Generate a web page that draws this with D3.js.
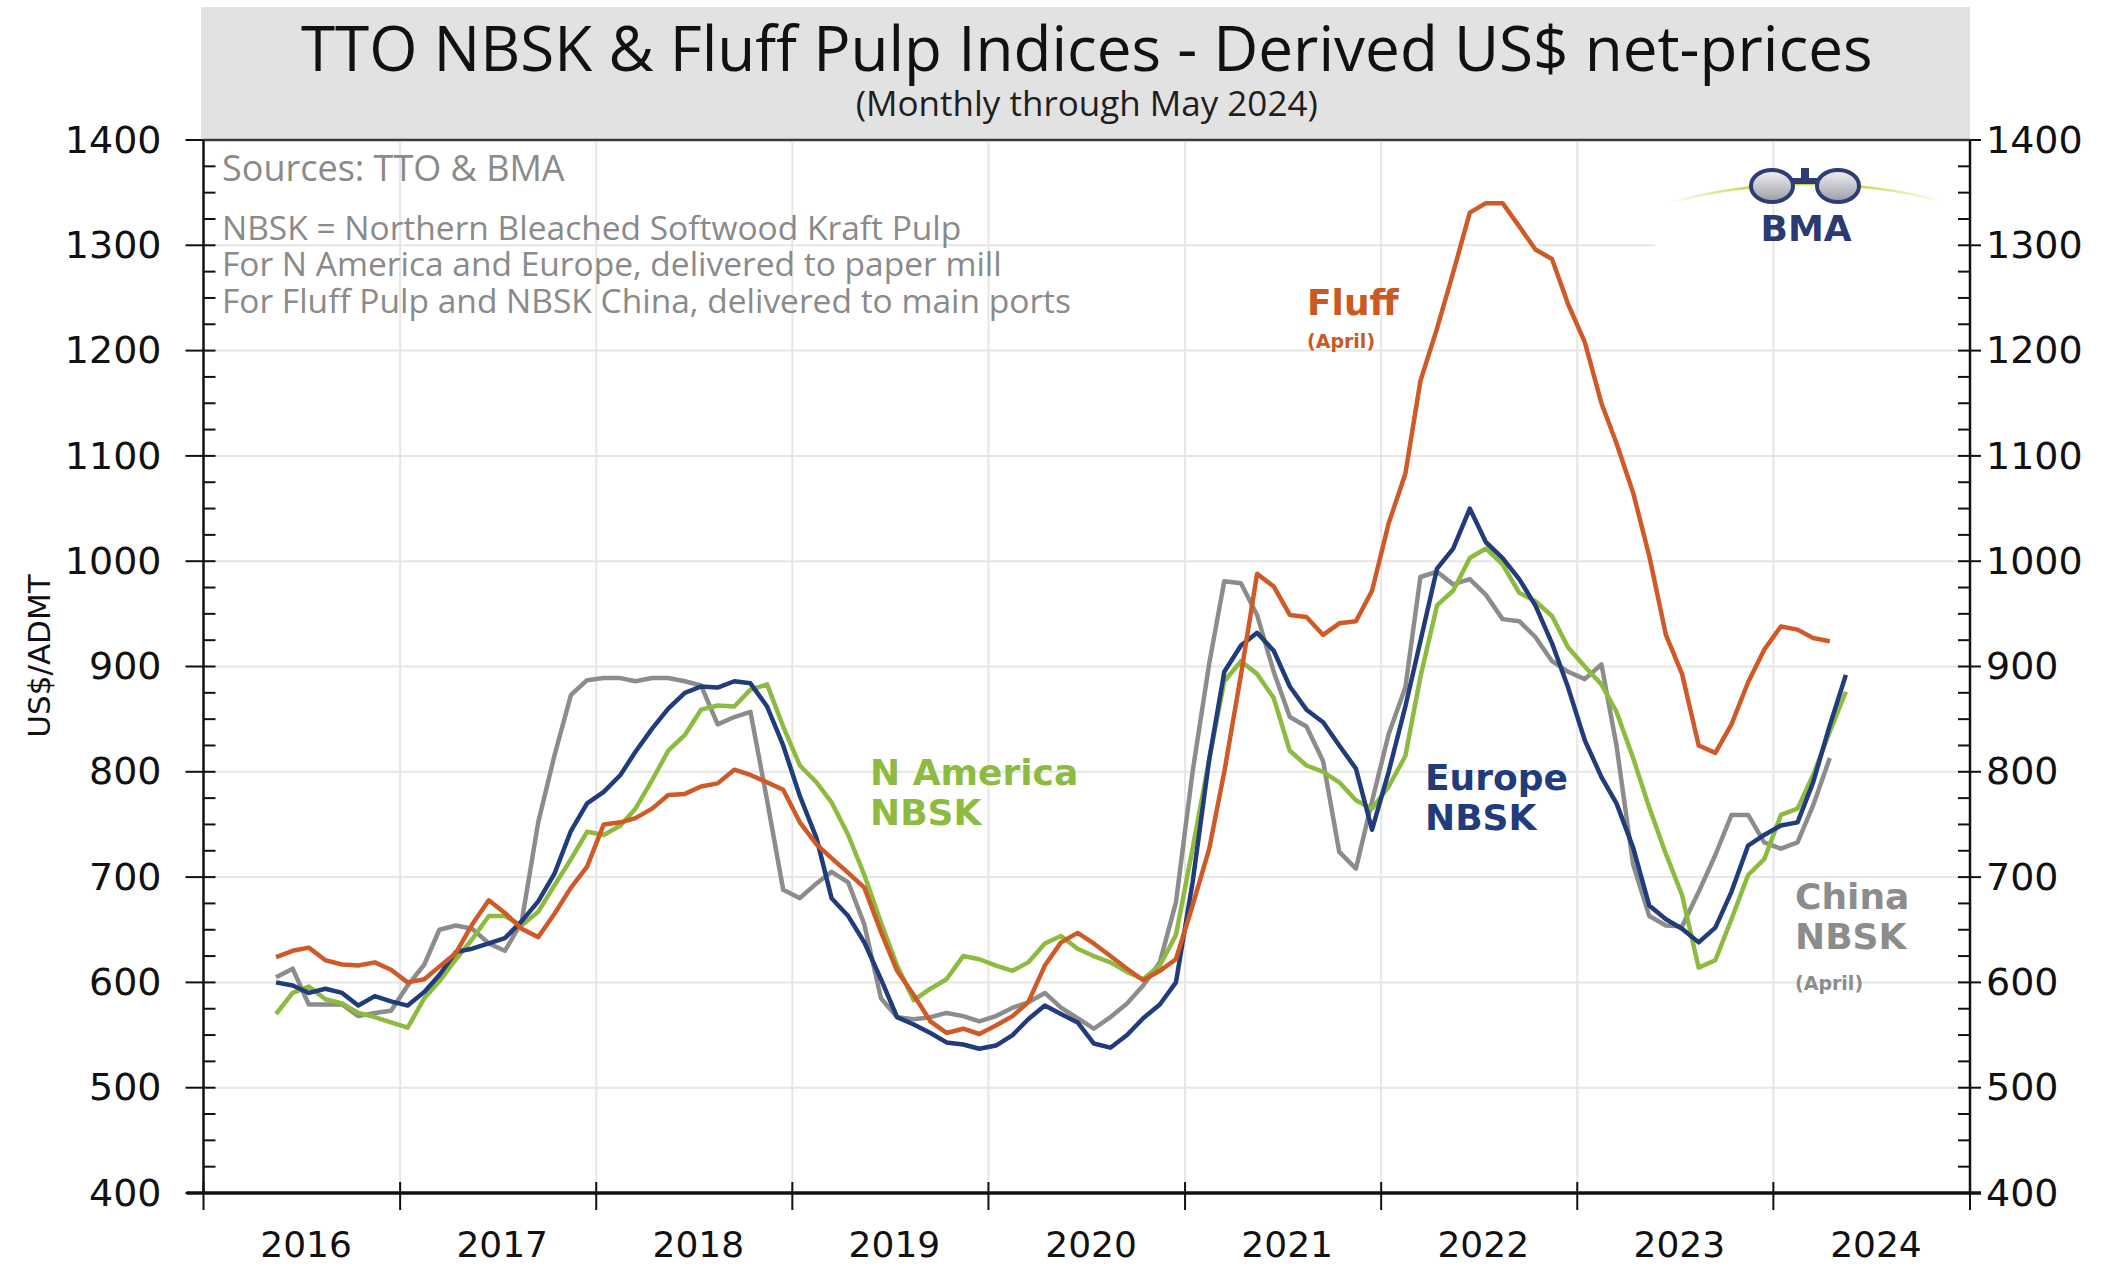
<!DOCTYPE html>
<html>
<head>
<meta charset="utf-8">
<script src="https://cdn.jsdelivr.net/npm/d3@7"></script>
<style>
body { margin: 0; background: #ffffff; }
</style>
</head>
<body>
<script>
//DATA (monthly, US$/ADMT)
var firstMonth = new Date(2016, 4, 15); // May 2016, points sit mid-month

var fluff = [
  624, 630, 633, 621, 617, 616, 619, 612,
  600, 603, 615, 628, 655, 678, 666, 651, 643, 665, 690, 710,
  750, 752, 756, 765, 778, 779, 786, 789, 802, 797, 790, 783,
  752, 731, 718, 704, 690, 648, 611, 588, 563, 552, 556, 551,
  559, 568, 581, 616, 638, 647, 637, 625, 613, 602, 611, 622,
  673, 727, 800, 892, 988, 976, 949, 947, 930, 941, 943, 972,
  1036, 1083, 1171, 1221, 1274, 1331, 1340, 1340, 1318, 1296, 1287, 1244,
  1208, 1150, 1112, 1065, 1005, 930, 893, 825, 818, 845, 885, 916,
  938, 935, 927, 924
];

var naNBSK = [
  570, 590, 596, 584, 580, 571, 567, 562,
  557, 585, 601, 622, 641, 663, 663, 654, 667, 692, 717, 743,
  740, 749, 765, 792, 820, 835, 859, 863, 862, 878, 883, 843,
  806, 790, 771, 740, 702, 657, 616, 583, 594, 603, 625, 622,
  616, 611, 619, 637, 644, 632, 625, 619, 610, 603, 616, 645,
  727, 812, 886, 905, 893, 870, 820, 806, 800, 790, 773, 765,
  786, 815, 890, 958, 972, 1003, 1012, 997, 970, 962, 948, 918,
  900, 883, 857, 813, 766, 722, 683, 614, 621, 660, 702, 717,
  759, 765, 797, 838, 876
];

var europeNBSK = [
  600, 597, 590, 594, 590, 578, 587, 582,
  578, 591, 607, 629, 632, 637, 642, 658, 677, 703, 744, 770,
  781, 797, 819, 841, 860, 875, 881, 880, 886, 884, 862, 825,
  777, 737, 680, 663, 638, 603, 567, 560, 552, 543, 541, 537,
  540, 550, 565, 578, 570, 562, 542, 538, 550, 566, 579, 600,
  695, 812, 895, 920, 932, 915, 881, 859, 847, 825, 803, 745,
  800, 862, 924, 993, 1012, 1050, 1018, 1003, 983, 958, 922, 880,
  830, 795, 770, 728, 673, 660, 651, 638, 652, 686, 730, 740,
  749, 752, 790, 844, 892
];

var chinaNBSK = [
  605, 613, 579, 579, 579, 568, 571, 573,
  597, 617, 650, 654, 651, 637, 630, 657, 752, 815, 873, 887,
  889, 889, 886, 889, 889, 886, 882, 845, 852, 857, 773, 688,
  680, 694, 705, 695, 655, 585, 567, 565, 567, 571, 568, 563,
  568, 576, 581, 590, 576, 566, 556, 567, 580, 597, 619, 676,
  800, 903, 981, 979, 949, 895, 852, 843, 810, 724, 708, 772,
  836, 880, 985, 990, 978, 983, 968, 945, 943, 928, 905, 895,
  888, 902, 825, 712, 663, 654, 653, 686, 721, 759, 759, 733,
  727, 733, 768, 813
];

var years = [2016, 2017, 2018, 2019, 2020, 2021, 2022, 2023, 2024];
var yTicks = [400, 500, 600, 700, 800, 900, 1000, 1100, 1200, 1300, 1400];

var titleText = "TTO NBSK & Fluff Pulp Indices - Derived US$ net-prices";
var subtitleText = "(Monthly through May 2024)";
var notes = [
  "Sources: TTO & BMA",
  "NBSK = Northern Bleached Softwood Kraft Pulp",
  "For N America and Europe, delivered to paper mill",
  "For Fluff Pulp and NBSK China, delivered to main ports"
];

//GENERAL VARIABLES
var width = 2127,
    height = 1267,
    plotLeft = 203.5,
    plotRight = 1970,
    plotTop = 140,
    plotBottom = 1193;

var tickFont = "'DejaVu Sans', Verdana, sans-serif";
var textFont = "'Open Sans', Lato, sans-serif";

var x = d3.scaleTime()
    .domain([new Date(2016, 0, 1), new Date(2025, 0, 1)])
    .range([plotLeft, plotRight]);

var y = d3.scaleLinear()
    .domain([400, 1400])
    .range([plotBottom, plotTop]);

var series = [
  { key: "china", values: chinaNBSK, color: "#8c8c8c" },
  { key: "na", values: naNBSK, color: "#8cbb3f" },
  { key: "europe", values: europeNBSK, color: "#213c7a" },
  { key: "fluff", values: fluff, color: "#cf5a27" }
];

var svg = d3.select("body").append("svg")
    .attr("width", width)
    .attr("height", height)
    .style("display", "block");

//TITLE BOX
svg.append("rect")
    .attr("x", 201).attr("y", 7)
    .attr("width", plotRight - 201).attr("height", plotTop - 7)
    .attr("fill", "#e2e2e2");

svg.append("text")
    .attr("x", (plotLeft + plotRight) / 2).attr("y", 71)
    .attr("text-anchor", "middle")
    .style("font-family", textFont).style("font-size", "62px")
    .attr("fill", "#111")
    .text(titleText);

svg.append("text")
    .attr("x", (plotLeft + plotRight) / 2).attr("y", 116)
    .attr("text-anchor", "middle")
    .style("font-family", textFont).style("font-size", "35px")
    .attr("fill", "#1e1e1e")
    .text(subtitleText);

//GRIDLINES
svg.append("g").selectAll("line")
    .data(yTicks.slice(1, -1))
    .enter().append("line")
    .attr("x1", plotLeft + 2).attr("x2", plotRight - 2)
    .attr("y1", function(d) { return y(d); })
    .attr("y2", function(d) { return y(d); })
    .attr("stroke", "#e6e6e6").attr("stroke-width", 2);

// logo sits on a white patch that hides the horizontal grid
svg.append("rect")
    .attr("x", 1655).attr("y", plotTop + 2)
    .attr("width", plotRight - 1657).attr("height", 112)
    .attr("fill", "#ffffff");

var yearStarts = years.slice(1).map(function(yr) { return new Date(yr, 0, 1); });
svg.append("g").selectAll("line")
    .data(yearStarts)
    .enter().append("line")
    .attr("x1", function(d) { return x(d); })
    .attr("x2", function(d) { return x(d); })
    .attr("y1", plotTop + 2).attr("y2", plotBottom)
    .attr("stroke", "#e6e6e6").attr("stroke-width", 2);

//LOGO
var defs = svg.append("defs");
var arcGrad = defs.append("linearGradient").attr("id", "arcGrad");
arcGrad.append("stop").attr("offset", "0%").attr("stop-color", "#c6da4c").attr("stop-opacity", 0);
arcGrad.append("stop").attr("offset", "30%").attr("stop-color", "#c6da4c").attr("stop-opacity", 1);
arcGrad.append("stop").attr("offset", "70%").attr("stop-color", "#c6da4c").attr("stop-opacity", 1);
arcGrad.append("stop").attr("offset", "100%").attr("stop-color", "#c6da4c").attr("stop-opacity", 0);
var lensGrad = defs.append("linearGradient").attr("id", "lensGrad")
    .attr("x1", 0).attr("y1", 0).attr("x2", 0).attr("y2", 1);
lensGrad.append("stop").attr("offset", "0%").attr("stop-color", "#f2f2f4");
lensGrad.append("stop").attr("offset", "100%").attr("stop-color", "#9a9ca6");

var logo = svg.append("g");
logo.append("path")
    .attr("d", "M1668,203 Q1805,166 1942,201")
    .attr("fill", "none")
    .attr("stroke", "url(#arcGrad)").attr("stroke-width", 2.5);
logo.append("rect")
    .attr("x", 1790).attr("y", 178).attr("width", 30).attr("height", 6)
    .attr("fill", "#2e3d72");
logo.append("rect")
    .attr("x", 1801).attr("y", 168).attr("width", 8).attr("height", 12)
    .attr("fill", "#2e3d72");
logo.selectAll("ellipse")
    .data([1772, 1838])
    .enter().append("ellipse")
    .attr("cx", function(d) { return d; }).attr("cy", 186)
    .attr("rx", 21).attr("ry", 16)
    .attr("fill", "url(#lensGrad)")
    .attr("stroke", "#2e3d72").attr("stroke-width", 4);
logo.append("text")
    .attr("x", 1806).attr("y", 241)
    .attr("text-anchor", "middle")
    .style("font-family", tickFont).style("font-size", "36px").style("font-weight", "bold")
    .attr("fill", "#2b3a70")
    .text("BMA");

//NOTES
svg.append("g").selectAll("text")
    .data(notes)
    .enter().append("text")
    .attr("x", 222)
    .attr("y", function(d, i) { return i === 0 ? 181 : 203 + i * 36.7; })
    .style("font-family", textFont)
    .style("font-size", function(d, i) { return i === 0 ? "36px" : "33.5px"; })
    .attr("fill", "#8a8a8a")
    .text(function(d) { return d; });

//LINES
series.forEach(function(s) {
    var line = d3.line()
        .x(function(d, i) { return x(d3.timeMonth.offset(firstMonth, i)); })
        .y(function(d) { return y(d); });
    svg.append("path")
        .datum(s.values)
        .attr("class", "line-" + s.key)
        .attr("fill", "none")
        .attr("stroke", s.color)
        .attr("stroke-width", 4.5)
        .attr("stroke-linejoin", "round")
        .attr("d", line);
});

//AXES
var leftAxis = d3.axisLeft(y).tickValues(yTicks).tickFormat(d3.format("d")).tickSize(0).tickPadding(42);
var gL = svg.append("g").attr("transform", "translate(" + plotLeft + ",0)").call(leftAxis);
var rightAxis = d3.axisRight(y).tickValues(yTicks).tickFormat(d3.format("d")).tickSize(0).tickPadding(16);
var gR = svg.append("g").attr("transform", "translate(" + plotRight + ",0)").call(rightAxis);
[gL, gR].forEach(function(g) {
    g.select(".domain").remove();
    g.selectAll("text")
        .style("font-family", tickFont).style("font-size", "38px")
        .attr("fill", "#111");
});

var minorTicks = d3.range(425, 1400, 25).filter(function(v) { return v % 100 !== 0; });
svg.append("g").selectAll("line")
    .data(minorTicks)
    .enter().append("line")
    .attr("x1", plotLeft).attr("x2", plotLeft + 12)
    .attr("y1", function(d) { return y(d); }).attr("y2", function(d) { return y(d); })
    .attr("stroke", "#111").attr("stroke-width", 2);
svg.append("g").selectAll("line")
    .data(minorTicks)
    .enter().append("line")
    .attr("x1", plotRight - 12).attr("x2", plotRight)
    .attr("y1", function(d) { return y(d); }).attr("y2", function(d) { return y(d); })
    .attr("stroke", "#111").attr("stroke-width", 2);

svg.append("g").selectAll("line")
    .data(yTicks)
    .enter().append("line")
    .attr("x1", plotLeft - 18).attr("x2", plotLeft + 12)
    .attr("y1", function(d) { return y(d); }).attr("y2", function(d) { return y(d); })
    .attr("stroke", "#111").attr("stroke-width", 2);
svg.append("g").selectAll("line")
    .data(yTicks)
    .enter().append("line")
    .attr("x1", plotRight - 12).attr("x2", plotRight + 11)
    .attr("y1", function(d) { return y(d); }).attr("y2", function(d) { return y(d); })
    .attr("stroke", "#111").attr("stroke-width", 2);

// frame
svg.append("line")
    .attr("x1", plotLeft).attr("x2", plotRight)
    .attr("y1", plotTop).attr("y2", plotTop)
    .attr("stroke", "#3a3a3a").attr("stroke-width", 2.5);
svg.append("line")
    .attr("x1", plotLeft).attr("x2", plotLeft)
    .attr("y1", plotTop).attr("y2", plotBottom)
    .attr("stroke", "#111").attr("stroke-width", 2.5);
svg.append("line")
    .attr("x1", plotRight).attr("x2", plotRight)
    .attr("y1", plotTop).attr("y2", plotBottom)
    .attr("stroke", "#111").attr("stroke-width", 2.5);

var yearTicks = years.map(function(yr) { return new Date(yr, 0, 1); }).concat([new Date(2025, 0, 1)]);
svg.append("g").selectAll("line")
    .data(yearTicks)
    .enter().append("line")
    .attr("x1", function(d) { return x(d); }).attr("x2", function(d) { return x(d); })
    .attr("y1", plotBottom - 11).attr("y2", plotBottom + 17)
    .attr("stroke", "#111").attr("stroke-width", 2);
svg.append("line")
    .attr("x1", plotLeft - 17).attr("x2", plotRight + 11)
    .attr("y1", plotBottom).attr("y2", plotBottom)
    .attr("stroke", "#111").attr("stroke-width", 3.5);

svg.append("g").selectAll("text")
    .data(years)
    .enter().append("text")
    .attr("x", function(d) { return x(new Date(d, 6, 10)); })
    .attr("y", 1257)
    .attr("text-anchor", "middle")
    .style("font-family", tickFont).style("font-size", "36px")
    .attr("fill", "#111")
    .text(function(d) { return d; });

svg.append("text")
    .attr("transform", "translate(50,656) rotate(-90)")
    .attr("text-anchor", "middle")
    .style("font-family", tickFont).style("font-size", "31px")
    .attr("fill", "#111")
    .text("US$/ADMT");

//SERIES LABELS
var labels = [
  { lines: ["N America", "NBSK"], x: 870, y: 785, color: "#8cbb3f" },
  { lines: ["Europe", "NBSK"], x: 1425, y: 790, color: "#213c7a" },
  { lines: ["Fluff"], x: 1307, y: 315, color: "#c95a24", note: 348 },
  { lines: ["China", "NBSK"], x: 1795, y: 909, color: "#8c8c8c", note: 990 }
];
labels.forEach(function(l) {
    l.lines.forEach(function(t, i) {
        svg.append("text")
            .attr("x", l.x).attr("y", l.y + i * 40)
            .style("font-family", tickFont).style("font-size", "36px").style("font-weight", "bold")
            .attr("fill", l.color)
            .text(t);
    });
    if (l.note) {
        svg.append("text")
            .attr("x", l.x).attr("y", l.note)
            .style("font-family", tickFont).style("font-size", "19px").style("font-weight", "bold")
            .attr("fill", l.color)
            .text("(April)");
    }
});
</script>
</body>
</html>
